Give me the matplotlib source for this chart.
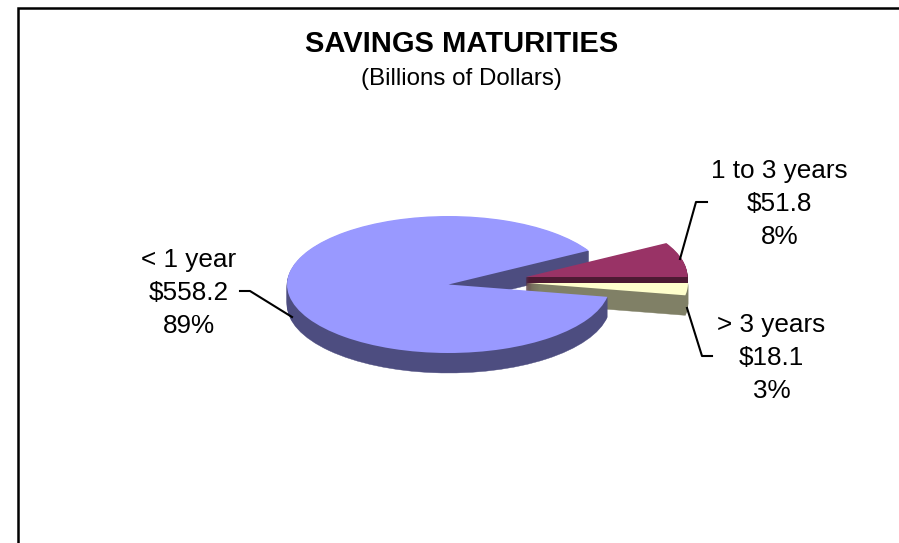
import matplotlib
matplotlib.use("Agg")
import matplotlib.pyplot as plt
from matplotlib.patches import Wedge

plt.rcParams['font.family'] = ['Liberation Sans', 'DejaVu Sans']

# data
categories = ["1 to 3 years", "< 1 year", "> 3 years"]
values = [51.8, 558.2, 18.1]
percents = ["8%", "89%", "3%"]
amounts = ["$51.8", "$558.2", "$18.1"]
top_colors = ["#993366", "#9999FF", "#FFFFCC"]
side_colors = ["#4D1A33", "#4D4D80", "#808066"]

W, H = 899, 543
RX, RY = 161.5, 68.5
K = RY / RX
DEPTH = 20

fig = plt.figure(figsize=(W / 100, H / 100), dpi=100, facecolor="white")

# pixel axes for frame / text / leaders
ax = fig.add_axes([0, 0, 1, 1], zorder=2)
ax.set_xlim(0, W); ax.set_ylim(H, 0); ax.axis("off"); ax.patch.set_alpha(0)

# squashed axes for the pie: a circle in data units becomes an ellipse
pie = fig.add_axes([0, 0, 1, 1], zorder=1)
pie.set_xlim(0, W); pie.set_ylim(0, H / K); pie.axis("off")

def py(y):
    return (H - y) / K

total = sum(values)
sweep = [v / total * 360 for v in values]
t0 = 0.0
a_m = (t0, t0 + sweep[0])
a_b = (a_m[1], a_m[1] + sweep[1])
a_c = (a_b[1], a_b[1] + sweep[2])

centers = {"m": (526.0, 277.0), "b": (448.5, 284.5), "c": (526.5, 283.0)}

def stack(c, a1, a2, color, z, depth=DEPTH):
    for d in range(depth, 0, -1):
        pie.add_patch(Wedge((c[0], py(c[1] + d)), RX, a1, a2, fc=color, ec=color, lw=0.3, zorder=z))

def top(c, a1, a2, color, z):
    pie.add_patch(Wedge((c[0], py(c[1])), RX, a1, a2, fc=color, ec="none", zorder=z))

# back part of the blue slice (notch wall)
stack(centers["b"], a_b[0], 180, side_colors[1], 1)
# maroon slice
stack(centers["m"], a_m[0], a_m[1], side_colors[0], 2)
top(centers["m"], a_m[0], a_m[1], top_colors[0], 3)
# cream slice
stack(centers["c"], a_c[0], a_c[1], side_colors[2], 4)
top(centers["c"], a_c[0], a_c[1], top_colors[2], 5)
# front of blue slice
stack(centers["b"], 180, a_b[1], side_colors[1], 6)
top(centers["b"], a_b[0], a_b[1], top_colors[1], 7)

# frame: left and top only
ax.plot([17.8, 17.8, W + 5], [H + 5, 7.5, 7.5], color="black", lw=1.8, solid_joinstyle="miter")

# title
ax.text(461.5, 52.3, "SAVINGS MATURITIES", ha="center", va="baseline", fontsize=21, fontweight="bold")
ax.text(461, 85, "(Billions of Dollars)", ha="center", va="baseline", fontsize=17.4)

# labels (baselines)
def label(x, y, i):
    ax.text(x, y, categories[i], ha="center", va="baseline", fontsize=18.8)
    ax.text(x, y + 33.3, amounts[i], ha="center", va="baseline", fontsize=18.8)
    ax.text(x, y + 66.6, percents[i], ha="center", va="baseline", fontsize=18.8)

label(779.5, 177.7, 0)
label(189, 266.7, 1)
label(771.5, 331.7, 2)

# leaders
ax.plot([680, 696, 707], [259, 202, 202], color="black", lw=1.5)
ax.plot([687, 702, 712], [308, 356, 356], color="black", lw=1.5)
ax.plot([240, 250, 292], [291, 291, 317], color="black", lw=1.5)

fig.savefig("out.png", dpi=100)
